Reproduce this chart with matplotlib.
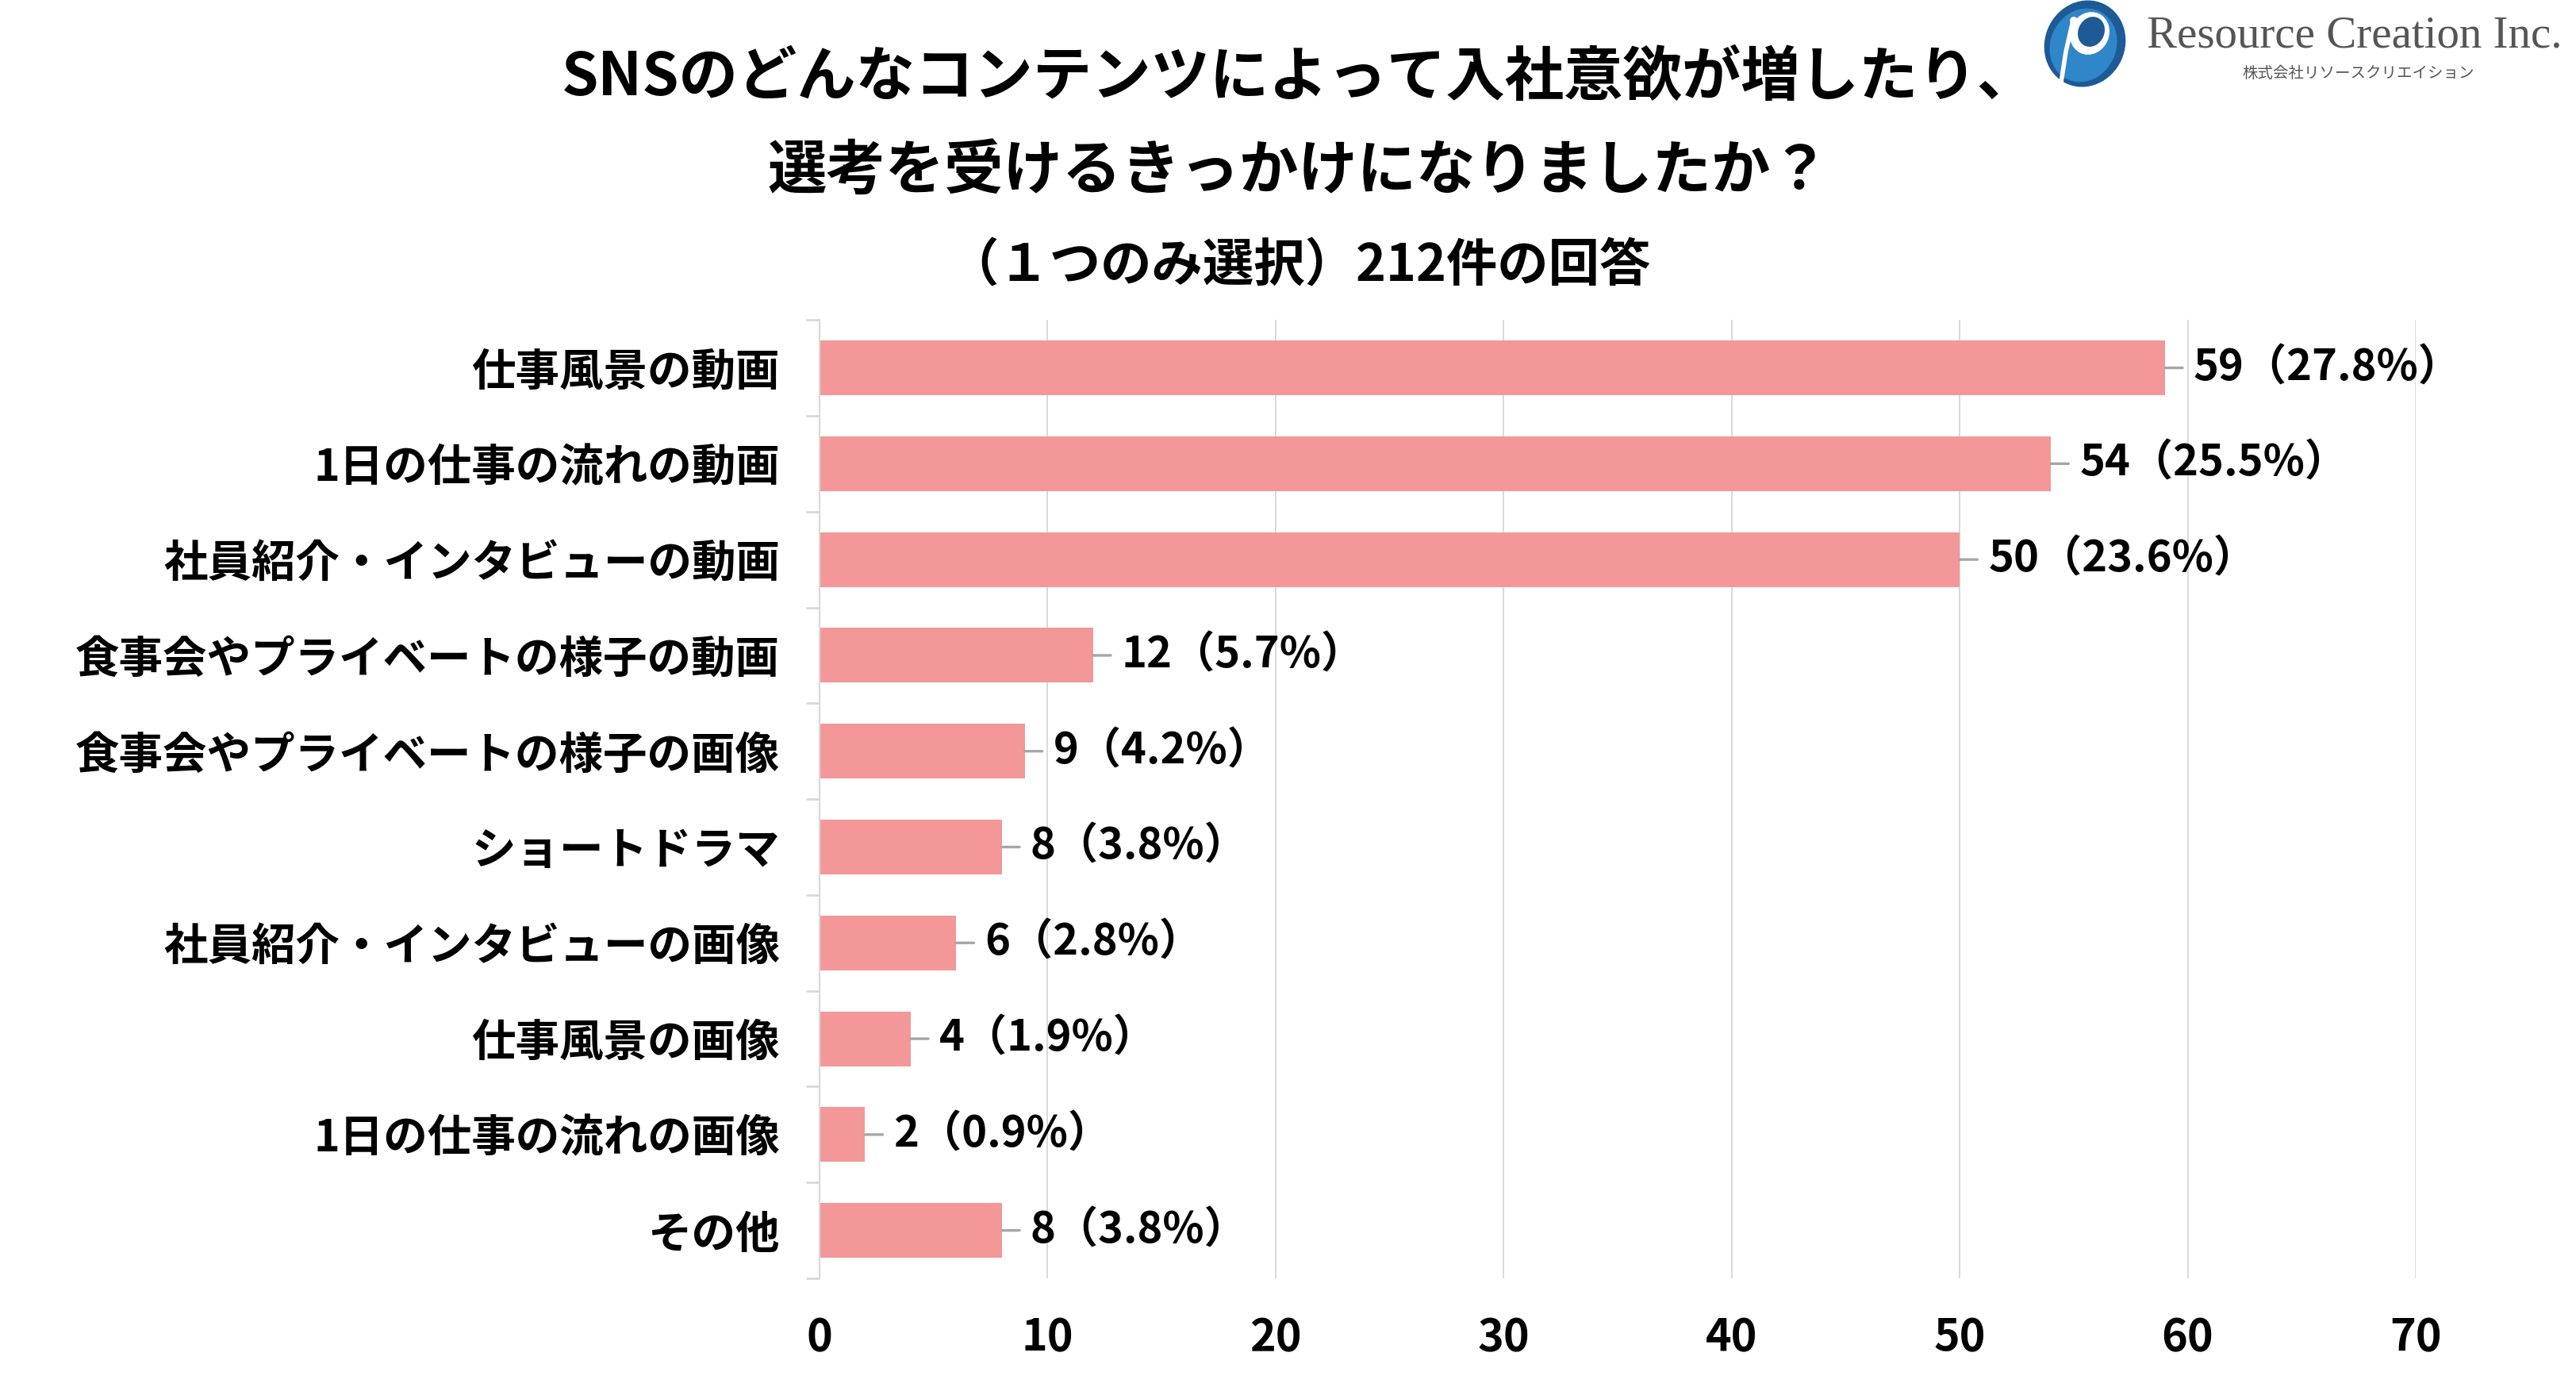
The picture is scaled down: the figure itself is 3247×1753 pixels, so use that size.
import numpy as np
import matplotlib.pyplot as plt
from matplotlib.patches import Ellipse

plt.rcParams['font.family'] = ['Noto Sans CJK JP', 'DejaVu Sans']

# data
categories = ['仕事風景の動画', '1日の仕事の流れの動画', '社員紹介・インタビューの動画',
              '食事会やプライベートの様子の動画', '食事会やプライベートの様子の画像',
              'ショートドラマ', '社員紹介・インタビューの画像', '仕事風景の画像',
              '1日の仕事の流れの画像', 'その他']
counts = [59, 54, 50, 12, 9, 8, 6, 4, 2, 8]
percents = [27.8, 25.5, 23.6, 5.7, 4.2, 3.8, 2.8, 1.9, 0.9, 3.8]
x_ticks = [0, 10, 20, 30, 40, 50, 60, 70]

bar_color = '#f39798'
grid_color = '#d9d9d9'

fig = plt.figure(figsize=(16.24, 8.765), dpi=200)
ax = fig.add_axes([0.318, 0.081, 0.6195, 0.689])

y = np.arange(len(categories))
ax.barh(y, counts, height=0.571, color=bar_color, zorder=3)

ax.set_xlim(0, 70)
ax.set_ylim(len(categories) - 0.5, -0.5)
ax.set_xticks(x_ticks)
ax.set_yticks(y)
ax.set_yticklabels(categories, fontsize=20, fontweight='bold')
ax.set_yticks(np.arange(len(categories) + 1) - 0.5, minor=True)
ax.tick_params(axis='y', which='major', length=0, pad=18)
ax.tick_params(axis='y', which='minor', length=6, width=1, color=grid_color)
ax.tick_params(axis='x', length=0, pad=17, labelsize=20)
for lab in ax.get_xticklabels():
    lab.set_fontweight('bold')

ax.grid(axis='x', color=grid_color, lw=0.7, zorder=0)
for s in ['top', 'right', 'bottom']:
    ax.spines[s].set_visible(False)
ax.spines['left'].set_color(grid_color)
ax.spines['left'].set_linewidth(0.8)
ax.spines['left'].set_zorder(4)

# value labels with short leader line
for i in range(len(categories)):
    ax.annotate('', xy=(counts[i], y[i]), xytext=(8, 0), textcoords='offset points',
                arrowprops=dict(arrowstyle='-', color='#a6a6a6', lw=1.2,
                                shrinkA=0, shrinkB=0), zorder=4)
    ax.annotate('%d（%.1f%%）' % (counts[i], percents[i]), xy=(counts[i], y[i]),
                xytext=(13, 0), textcoords='offset points', ha='left', va='center',
                fontsize=19.5, fontweight='bold', color='black', zorder=5)

# titles
fig.text(0.504, 1 - 98 / 1753, 'SNSのどんなコンテンツによって入社意欲が増したり、',
         ha='center', va='center', fontsize=26.8, fontweight='bold')
fig.text(0.504, 1 - 216 / 1753, '選考を受けるきっかけになりましたか？',
         ha='center', va='center', fontsize=26.8, fontweight='bold')
fig.text(0.504, 1 - 335 / 1753, '（１つのみ選択）212件の回答',
         ha='center', va='center', fontsize=23.2, fontweight='bold')

# logo
lax = fig.add_axes([2568 / 3248, 1 - 110 / 1753, 120 / 3248, 110 / 1753])
lax.set_xlim(0, 120)
lax.set_ylim(0, 110)
lax.set_aspect('equal')
lax.axis('off')
lax.add_patch(Ellipse((60, 55), 98, 108, angle=-25, color='#1d5a96'))
lax.add_patch(Ellipse((58, 53), 80, 92, angle=-25, color='#2f86c8'))
lax.add_patch(Ellipse((66, 68), 46, 52, angle=-25, color='white'))
lax.add_patch(Ellipse((68, 70), 30, 36, angle=-25, color='#1d5a96'))
lax.plot([44, 36, 30], [80, 45, 6], color='white', lw=2)
lax.add_patch(Ellipse((46, 84), 7, 7, color='white'))

fig.text(2706 / 3248, 1 - 46 / 1753, 'Resource Creation Inc.', ha='left', va='center',
         fontsize=20.5, color='#555555', family='Liberation Serif')
fig.text(2826 / 3248, 1 - 92 / 1753, '株式会社リソースクリエイション', ha='left', va='center',
         fontsize=7, color='#555555')

plt.savefig('out.png', dpi=200)
